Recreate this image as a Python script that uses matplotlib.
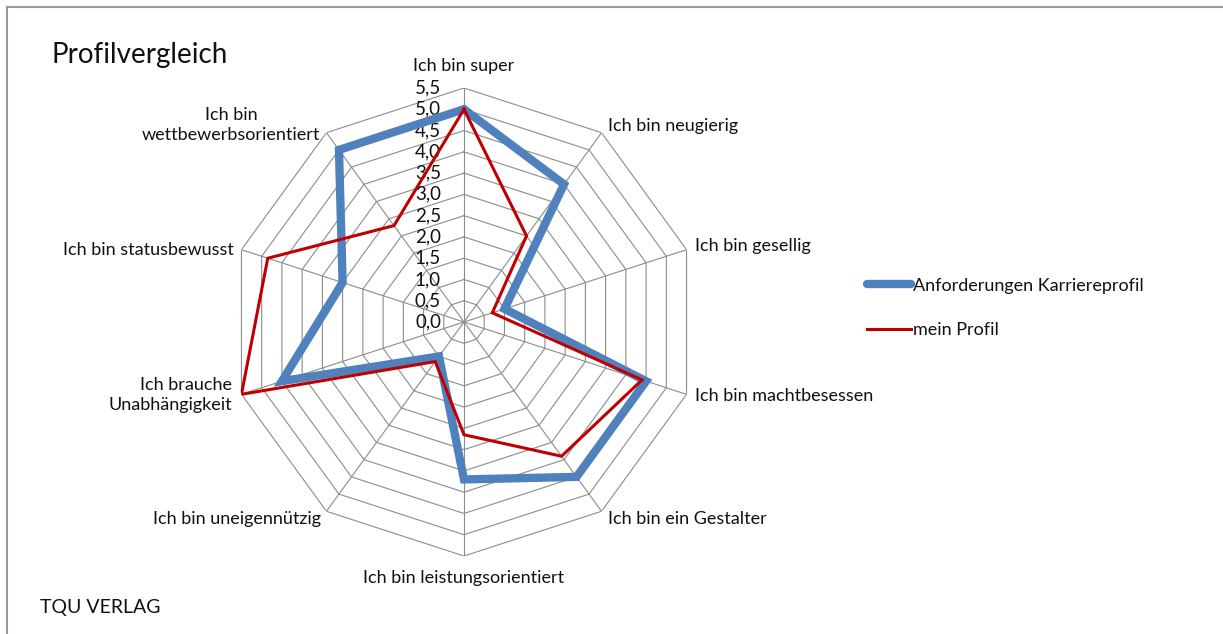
import numpy as np
import matplotlib
matplotlib.use('Agg')
import matplotlib.pyplot as plt
from matplotlib.lines import Line2D

plt.rcParams['font.family'] = ['Lato', 'DejaVu Sans']

categories = ['Ich bin super', 'Ich bin neugierig', 'Ich bin gesellig',
              'Ich bin machtbesessen', 'Ich bin ein Gestalter',
              'Ich bin leistungsorientiert', 'Ich bin uneigennützig',
              'Ich brauche\nUnabhängigkeit', 'Ich bin statusbewusst',
              'Ich bin\nwettbewerbsorientiert']
karriere = [5.0, 4.0, 1.0, 4.5, 4.5, 3.7, 1.0, 4.5, 3.0, 5.0]
mein = [5.0, 2.5, 0.7, 4.4, 3.9, 2.65, 1.15, 5.5, 4.85, 2.8]
levels = [0.0, 0.5, 1.0, 1.5, 2.0, 2.5, 3.0, 3.5, 4.0, 4.5, 5.0, 5.5]
level_labels = ['0,0', '0,5', '1,0', '1,5', '2,0', '2,5', '3,0', '3,5',
                '4,0', '4,5', '5,0', '5,5']

W, H = 1223, 634
fig = plt.figure(figsize=(W / 100, H / 100), dpi=100)

# center (464, 322) px, outer radius 234 px
cx, cy, R = 464, 322, 234
ax = fig.add_axes([(cx - R) / W, (H - cy - R) / H, 2 * R / W, 2 * R / H],
                  projection='polar')
ax.set_theta_offset(np.pi / 2)
ax.set_theta_direction(-1)
ax.set_ylim(0, 5.5)
ax.grid(False)
ax.set_xticks([])
ax.set_yticks([])
ax.spines['polar'].set_visible(False)
ax.patch.set_alpha(0)

n = len(categories)
theta = np.arange(n) * 2 * np.pi / n
tc = np.append(theta, theta[0])

grid_col = '#8c8c8c'
for lv in levels[1:]:
    ax.plot(tc, [lv] * (n + 1), color=grid_col, lw=0.8, zorder=1)
for t in theta:
    ax.plot([t, t], [0, 5.5], color=grid_col, lw=0.8, zorder=1)

ax.plot(tc, karriere + karriere[:1], color='#4F81BD', lw=6,
        solid_joinstyle='miter', solid_capstyle='round', zorder=3,
        label='Anforderungen Karriereprofil')
ax.plot(tc, mein + mein[:1], color='#C00000', lw=2.2,
        solid_joinstyle='miter', zorder=4, label='mein Profil')

# axis value labels along the top spoke
for lv, lab in zip(levels, level_labels):
    ax.annotate(lab, (0, lv), xytext=(-23, 0), textcoords='offset pixels',
                ha='right', va='center', fontsize=13.5, color='#111111', zorder=2)

# category labels: (ha, dx, dy) offsets in pixels from the outer vertex
offsets = [('center', 0, 22),
           ('left', 6, 7),
           ('left', 8, 4),
           ('left', 8, -2),
           ('left', 6, -8),
           ('center', 0, -22),
           ('right', -5, -8),
           ('right', -9, -1),
           ('right', -8, 0),
           ('right', -6, 8)]
for t, lab, (ha, dx, dy) in zip(theta, categories, offsets):
    malign = 'center' if lab.startswith('Ich bin\n') else ha
    ax.annotate(lab, (t, 5.5), xytext=(dx, dy), textcoords='offset pixels',
                ha=ha, va='center', multialignment=malign,
                fontsize=13, color='#111111', linespacing=1.3)

leg = fig.legend(loc='center left', bbox_to_anchor=(867 / W, 1 - 308 / H),
                 frameon=False, fontsize=13, handlelength=2.45,
                 handletextpad=0.1, labelspacing=1.6, borderpad=0,
                 borderaxespad=0)
for t in leg.get_texts():
    t.set_color('#111111')

fig.text(52 / W, 1 - 55 / H, 'Profilvergleich', fontsize=20, va='center',
         ha='left', color='#111111')
fig.text(40 / W, 1 - 608 / H, 'TQU VERLAG', fontsize=14, va='center',
         ha='left', color='#111111')

# chart area border (only top and left visible in the crop)
fig.add_artist(Line2D([7 / W, 7 / W], [0, 1 - 7 / H], color='#9a9a9a', lw=1.5))
fig.add_artist(Line2D([7 / W, 1], [1 - 7 / H, 1 - 7 / H], color='#9a9a9a', lw=1.5))

fig.savefig('out.png', dpi=100)
